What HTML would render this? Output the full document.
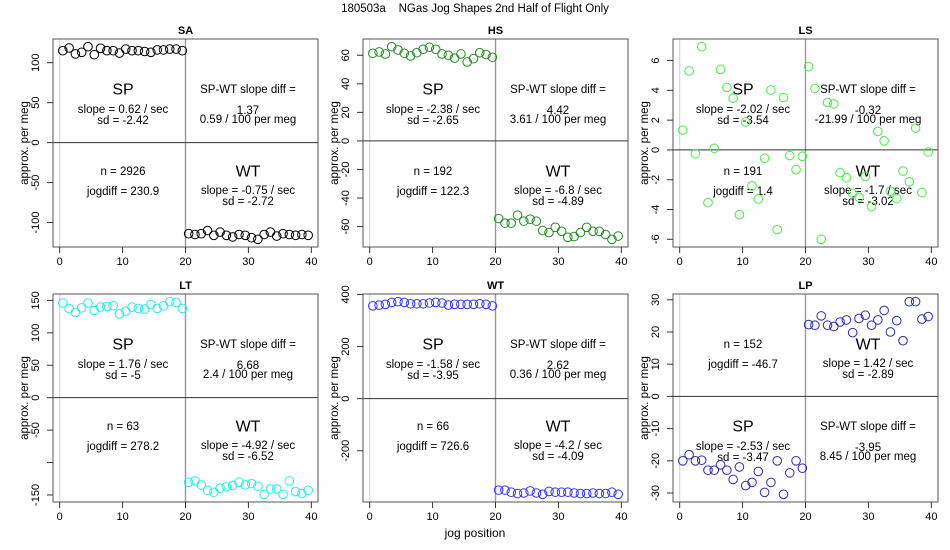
<!DOCTYPE html>
<html><head><meta charset="utf-8"><style>
html,body{margin:0;padding:0;background:#fff;}
svg{display:block;font-family:"Liberation Sans",Arial,sans-serif;}
</style></head><body>
<svg id="chart" width="950" height="550" viewBox="0 0 950 550">
<text x="475" y="12" text-anchor="middle" font-size="11.5" xml:space="preserve" style="white-space:pre">180503a    NGas Jog Shapes 2nd Half of Flight Only</text>
<text x="475" y="537" text-anchor="middle" font-size="12">jog position</text>
</svg>
<script>
const jogX = [];
for (let i = 0; i < 40; i++) jogX.push(i + 0.5);
const panelNames = ["SA","HS","LS","LT","WT","LP"];
const saValues = [115,118.5,111,113,120,110,118,115,115,112,117,115,115,114,113,116,116,117,117,115,
 -114,-115,-114,-110,-116,-112,-116,-118,-115,-116,-119,-121,-115,-112,-117,-114,-115,-116,-115,-116];
const hsValues = [61.4,62.3,60.9,66,63.7,61.4,59.5,61.8,64.2,65.6,64.2,60.9,60,58,60.9,55.3,57.6,61.8,60.5,58.6,
 -54.4,-57.6,-57.6,-52,-56.2,-54.8,-56.2,-62.8,-64.2,-60.5,-63.3,-67.5,-67,-64.2,-60.5,-63.3,-63.3,-65.6,-68.9,-66.6];
const lsValues = [1.33,5.3,-0.25,6.93,-3.54,0.11,5.41,4.2,3.47,-4.35,1.87,-2.41,-3.29,-0.56,4.02,-5.35,3.52,-0.38,-1.33,-0.43,
 5.59,4.13,-6.0,3.18,3.09,-1.53,-1.87,-2.91,-3.18,-1.78,-3.81,1.24,0.61,-2.77,-3.27,-1.42,-2.14,1.47,-2.86,-0.14];
const ltValues = [145.9,137.6,131.4,138.6,145.9,134.5,139.7,140.7,141.7,129.3,133.4,139.7,137.6,136.6,143.8,137.6,141.7,148,146.9,137.6,
 -130.4,-128.3,-134.5,-142.8,-145.9,-139.7,-137.6,-135.5,-130.4,-134.5,-132.4,-136.6,-149,-140.7,-140.7,-149,-128.3,-144.8,-147.9,-142.8];
const wtValues = [356,359,362,369,372,369,364,364,364,367,369,367,359,362,362,362,362,364,362,356,
 -351,-351,-359,-364,-362,-354,-362,-367,-356,-359,-359,-359,-362,-364,-364,-362,-364,-364,-359,-367];
const lpValues = [-20,-18.1,-20,-19.8,-22.9,-22.9,-21.25,-22.9,-25.8,-21.9,-27.7,-26.7,-23.3,-29.8,-26.7,-20,-30.4,-23.75,-20,-22.3,
 22.3,22.1,25,22.1,21.7,23.1,23.75,19.8,24.2,25.2,22.1,23.75,26.7,20,23.5,17.3,29.4,29.4,24,24.8];
const xTicks = [0,10,20,30,40];
const saTicks = [-100,-50,0,50,100];
const hsTicks = [-60,-40,-20,0,20,40,60];
const lsTicks = [-6,-4,-2,0,2,4,6];
const ltTicks = [-150,-100,-50,0,50,100,150];
const ltTickLabels = ["-150","","-50","0","50","100","150"];
const wtTicks = [-200,0,200,400];
const lpTicks = [-30,-20,-10,0,10,20,30];
const spStats = [["0.62","-2.42"],["-2.38","-2.65"],["-2.02","-3.54"],["1.76","-5"],["-1.58","-3.95"],["-2.53","-3.47"]];
const wtStats = [["-0.75","-2.72"],["-6.8","-4.89"],["-1.7","-3.02"],["-4.92","-6.52"],["-4.2","-4.09"],["1.42","-2.89"]];
const diffStats = [["1.37","0.59"],["4.42","3.61"],["-0.32","-21.99"],["6.68","2.4"],["2.62","0.36"],["-3.95","8.45"]];
const nStats = [["2926","230.9"],["192","122.3"],["191","1.4"],["63","278.2"],["66","726.6"],["152","-46.7"]];
const colors = ["#000000","#228B22","#44ee44","#22eeee","#3333ff","#2a2ab8"];

const NS = "http://www.w3.org/2000/svg";
const svg = document.getElementById("chart");
function mk(tag, attrs, parent, txt) {
  const e = document.createElementNS(NS, tag);
  for (const k in attrs) e.setAttribute(k, attrs[k]);
  if (txt !== undefined) e.textContent = txt;
  parent.appendChild(e);
  return e;
}
const allValues = [saValues,hsValues,lsValues,ltValues,wtValues,lpValues];
const allTicks = [saTicks,hsTicks,lsTicks,ltTicks,wtTicks,lpTicks];
const W = 265, H = 208;

allValues.forEach((vals, p) => {
  const col = p % 3, row = Math.floor(p / 3);
  const L = 53 + col * 310, T = 39 + row * 255;
  const g = mk("g", {}, svg);
  
  
  const xmin = Math.min(...jogX), xmax = Math.max(...jogX);
  const xp = (xmax - xmin) * 0.04;
  const x0 = xmin - xp, x1 = xmax + xp;
  const ymin = Math.min(...vals), ymax = Math.max(...vals);
  const yp = (ymax - ymin) * 0.04;
  const y0 = ymin - yp, y1 = ymax + yp;
  const sx = v => L + (v - x0) / (x1 - x0) * W;
  const sy = v => T + H - (v - y0) / (y1 - y0) * H;

  const t = mk("text", {x: L + W / 2, y: T - 5, "text-anchor": "middle", "font-size": "11", "font-weight": "bold"}, g, panelNames[p]);
  
  

  const l0 = mk("line", {x1: sx(0), x2: sx(0), y1: T, y2: T + H, stroke: "#d8d8d8", "stroke-width": 1.2}, g);
  
  
  const l20 = mk("line", {x1: sx(20), x2: sx(20), y1: T, y2: T + H, stroke: "#999", "stroke-width": 1.4}, g);
  
  
  const lh = mk("line", {x1: L, x2: L + W, y1: sy(0), y2: sy(0), stroke: "#333", "stroke-width": 1}, g);
  
  

  const box = mk("rect", {x: L, y: T, width: W, height: H, fill: "none", stroke: "#555", "stroke-width": 1}, g);
  
  

  xTicks.forEach(v => {
    const tk = mk("line", {x1: sx(v), x2: sx(v), y1: T + H, y2: T + H + 6, stroke: "#333"}, g);
    
    
    const tl = mk("text", {x: sx(v), y: T + H + 18, "text-anchor": "middle", "font-size": "11"}, g, String(v));
    
    
  });
  const ticks = allTicks[p];
  ticks.forEach((v, i) => {
    const tk = mk("line", {x1: L - 6, x2: L, y1: sy(v), y2: sy(v), stroke: "#333"}, g);
    
    
    const lab = p === 3 ? ltTickLabels[i] : String(v);
    const tl = mk("text", {x: L - 17, y: sy(v), "text-anchor": "middle", "dominant-baseline": "central", "font-size": "11", transform: `rotate(-90 ${L - 17} ${sy(v)})`}, g, lab);
    
    
  });
  const yt = mk("text", {x: L - 28, y: T + H / 2, "text-anchor": "middle", "dominant-baseline": "central", "font-size": "11.5", transform: `rotate(-90 ${L - 28} ${T + H / 2})`}, g, "approx. per meg");
  
  

  const cxL = L + 70, cxR = L + 195;
  const topB = T + 51, botB = T + 133;
  const spFirst = p !== 5;
  const spPos = spFirst ? [cxL, topB] : [cxL, botB];
  const diffPos = spFirst ? [cxR, topB] : [cxR, botB];
  const nPos = spFirst ? [cxL, botB] : [cxL, topB];
  const wtPos = [cxR, spFirst ? botB : topB];
  function txt(x, y, s, size, name) {
    const e = mk("text", {x: x, y: y, "text-anchor": "middle", "font-size": size, "dominant-baseline": "central"}, g, s);
    
    
  }
  txt(spPos[0], spPos[1], "SP", 16, "sp-label");
  txt(spPos[0], spPos[1] + 20, "slope = " + spStats[p][0] + " / sec", 11.5, "sp-slope");
  txt(spPos[0], spPos[1] + 31, "sd = " + spStats[p][1], 11.5, "sp-sd");
  txt(wtPos[0], wtPos[1], "WT", 16, "wt-label");
  txt(wtPos[0], wtPos[1] + 19, "slope = " + wtStats[p][0] + " / sec", 11.5, "wt-slope");
  txt(wtPos[0], wtPos[1] + 30, "sd = " + wtStats[p][1], 11.5, "wt-sd");
  txt(diffPos[0], diffPos[1], "SP-WT slope diff =", 11.5, "slope-diff-label");
  txt(diffPos[0], diffPos[1] + 21, diffStats[p][0], 11.5, "slope-diff-value");
  txt(diffPos[0], diffPos[1] + 30, diffStats[p][1] + " / 100 per meg", 11.5, "slope-diff-per-meg");
  txt(nPos[0], nPos[1], "n = " + nStats[p][0], 11.5, "n-count");
  txt(nPos[0], nPos[1] + 20, "jogdiff = " + nStats[p][1], 11.5, "jogdiff");

  vals.forEach((v, i) => {
    const c = mk("circle", {cx: sx(jogX[i]), cy: sy(v), r: 4.3, fill: "none", stroke: colors[p], "stroke-width": 1}, g);
    
    
  });
});
</script>
</body></html>
